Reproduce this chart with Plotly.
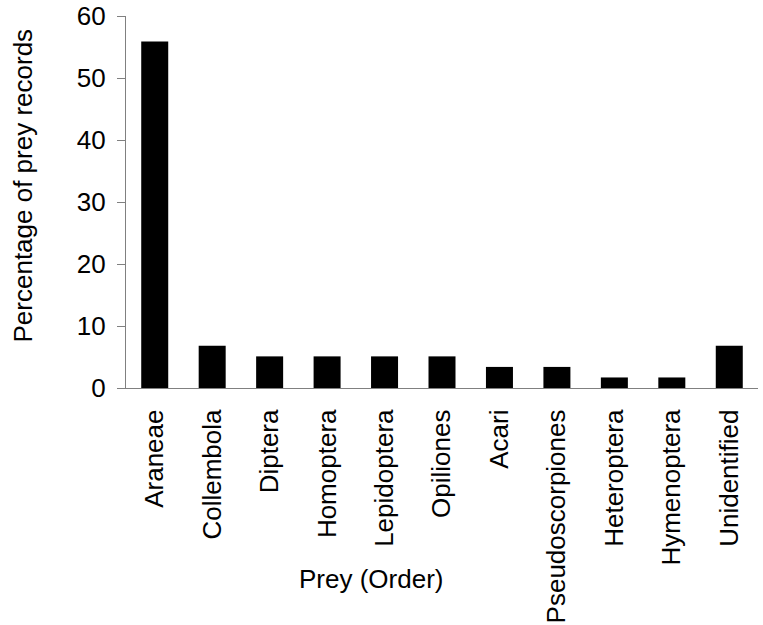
import plotly.graph_objects as go

categories = ["Araneae", "Collembola", "Diptera", "Homoptera", "Lepidoptera", "Opiliones",
              "Acari", "Pseudoscorpiones", "Heteroptera", "Hymenoptera", "Unidentified"]
values = [55.9, 6.8, 5.1, 5.1, 5.1, 5.1, 3.4, 3.4, 1.7, 1.7, 6.8]
y_ticks = [0, 10, 20, 30, 40, 50, 60]

fig = go.Figure(go.Bar(x=categories, y=values, marker=dict(color="black", line=dict(width=0))))

font = "Liberation Sans, Arial, sans-serif"
PW, PH = 632, 372
fig.update_layout(
    width=763, height=625,
    margin=dict(l=126, r=5, t=16, b=237, autoexpand=False),
    plot_bgcolor="white", paper_bgcolor="white",
    bargap=0.53,
    showlegend=False,
    font=dict(family=font, size=26, color="black"),
    annotations=[
        dict(text="Prey (Order)", xref="paper", yref="paper", x=(371 - 126) / PW, y=(388 - 579) / PH,
             showarrow=False, font=dict(size=26), xanchor="center", yanchor="middle"),
        dict(text="Percentage of prey records", xref="paper", yref="paper", x=(22 - 126) / PW,
             y=(388 - 185.5) / PH, textangle=-90, showarrow=False, font=dict(size=26),
             xanchor="center", yanchor="middle"),
    ],
)
fig.update_xaxes(
    showline=True, linecolor="#808080", linewidth=1.2,
    tickangle=-90, ticks="", tickfont=dict(size=26), ticklabelstandoff=10,
    ticklabeloverflow="allow",
    showgrid=False, automargin=False,
)
fig.update_yaxes(
    range=[0, 60], tickvals=y_ticks,
    showline=True, linecolor="#808080", linewidth=1.2,
    ticks="outside", ticklen=8, tickcolor="#808080", tickwidth=1.2,
    tickfont=dict(size=26), ticklabelstandoff=6, ticklabeloverflow="allow",
    showgrid=False, zeroline=False, automargin=False,
)
fig.write_html("out.html", config={"displayModeBar": False},
               post_script="document.body.style.margin='0';document.body.style.overflow='hidden';")
